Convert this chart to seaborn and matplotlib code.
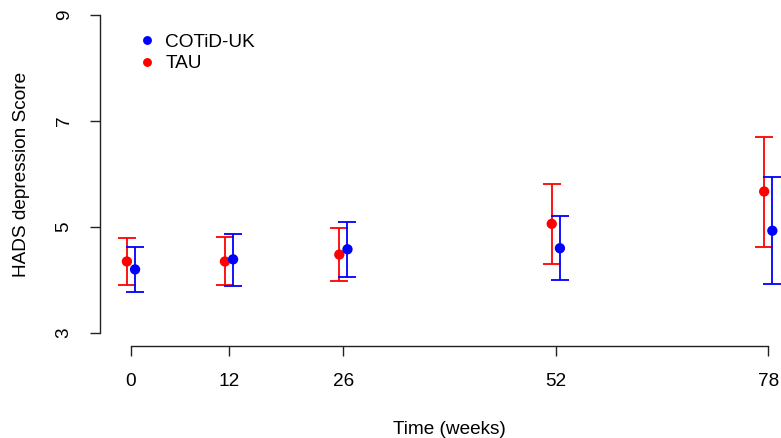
import matplotlib
matplotlib.use('Agg')
import matplotlib.pyplot as plt
from matplotlib.lines import Line2D
import pandas as pd
import seaborn as sns

# ─────────────────────────────────────────────
# Data
# ─────────────────────────────────────────────
weeks = [0, 12, 26, 52, 78]

cotid_mean  = [4.20, 4.39, 4.58, 4.60, 4.93]
cotid_lower = [3.77, 3.89, 4.06, 4.00, 3.92]
cotid_upper = [4.63, 4.87, 5.09, 5.21, 5.94]

tau_mean  = [4.35, 4.35, 4.48, 5.06, 5.67]
tau_lower = [3.91, 3.91, 3.99, 4.31, 4.63]
tau_upper = [4.79, 4.81, 4.99, 5.82, 6.70]

groups = ['COTiD-UK', 'TAU']
colours = {'COTiD-UK': 'blue', 'TAU': 'red'}
dodge = {'COTiD-UK': 0.5, 'TAU': -0.5}   # small horizontal jitter, as in the original

y_ticks = [3, 5, 7, 9]

df = pd.concat([
    pd.DataFrame({'week': weeks, 'mean': tau_mean, 'lo': tau_lower,
                  'hi': tau_upper, 'group': 'TAU'}),
    pd.DataFrame({'week': weeks, 'mean': cotid_mean, 'lo': cotid_lower,
                  'hi': cotid_upper, 'group': 'COTiD-UK'}),
], ignore_index=True)
df['x'] = df['week'] + df['group'].map(dodge)

# ─────────────────────────────────────────────
# Plot
# ─────────────────────────────────────────────
FS = 13.7
sns.set_style('white')
plt.rcParams['font.family'] = ['Liberation Sans', 'DejaVu Sans']
plt.rcParams['text.color'] = 'black'
plt.rcParams['axes.labelcolor'] = 'black'
plt.rcParams['xtick.color'] = 'black'
plt.rcParams['ytick.color'] = 'black'

fig = plt.figure(figsize=(7.81, 4.38), dpi=100)
ax = fig.add_axes([100 / 781, 92 / 438, 698 / 781, 343 / 438])

for g in ['TAU', 'COTiD-UK']:
    sub = df[df['group'] == g]
    ax.errorbar(sub['x'], sub['mean'],
                yerr=[sub['mean'] - sub['lo'], sub['hi'] - sub['mean']],
                fmt='none', ecolor=colours[g], elinewidth=1.3,
                capsize=6.5, capthick=1.3, zorder=2)

sns.scatterplot(data=df, x='x', y='mean', hue='group', hue_order=groups,
                palette=colours, s=55, edgecolor='none', ax=ax, zorder=3,
                legend=False)

ax.set_xlim(-3.79, 81.64)
ax.set_ylim(2.755, 9.227)

ax.set_xticks(weeks)
ax.set_xticklabels([str(w) for w in weeks])
ax.set_yticks(y_ticks)
ax.set_yticklabels([str(t) for t in y_ticks], rotation=90, va='center')

ax.tick_params(axis='both', which='major', direction='out', length=7.2,
               width=1.0, color='#222222', labelsize=FS, pad=12.5,
               bottom=True, left=True)

for side in ['top', 'right']:
    ax.spines[side].set_visible(False)
ax.spines['left'].set_bounds(3, 9)
ax.spines['bottom'].set_bounds(0, 78)
for side in ['left', 'bottom']:
    ax.spines[side].set_color('#222222')
    ax.spines[side].set_linewidth(1.0)

ax.set_xlabel('Time (weeks)', fontsize=FS)
ax.set_ylabel('HADS depression Score', fontsize=FS)
ax.xaxis.set_label_coords(0.5, -0.242)
ax.yaxis.set_label_coords(-0.112, 0.5)
ax.xaxis.label.set_va('center')
ax.yaxis.label.set_va('center')

handles = [Line2D([], [], linestyle='none', marker='o', markersize=6.4,
                  markerfacecolor=colours[g], markeredgecolor='none')
           for g in groups]
ax.legend(handles, groups, loc='upper left', bbox_to_anchor=(0.043, 0.933),
          frameon=False, fontsize=FS, handlelength=1.0, handletextpad=0.45,
          labelspacing=0.22, borderaxespad=0)

fig.savefig('out.png', dpi=100)
plt.close(fig)
